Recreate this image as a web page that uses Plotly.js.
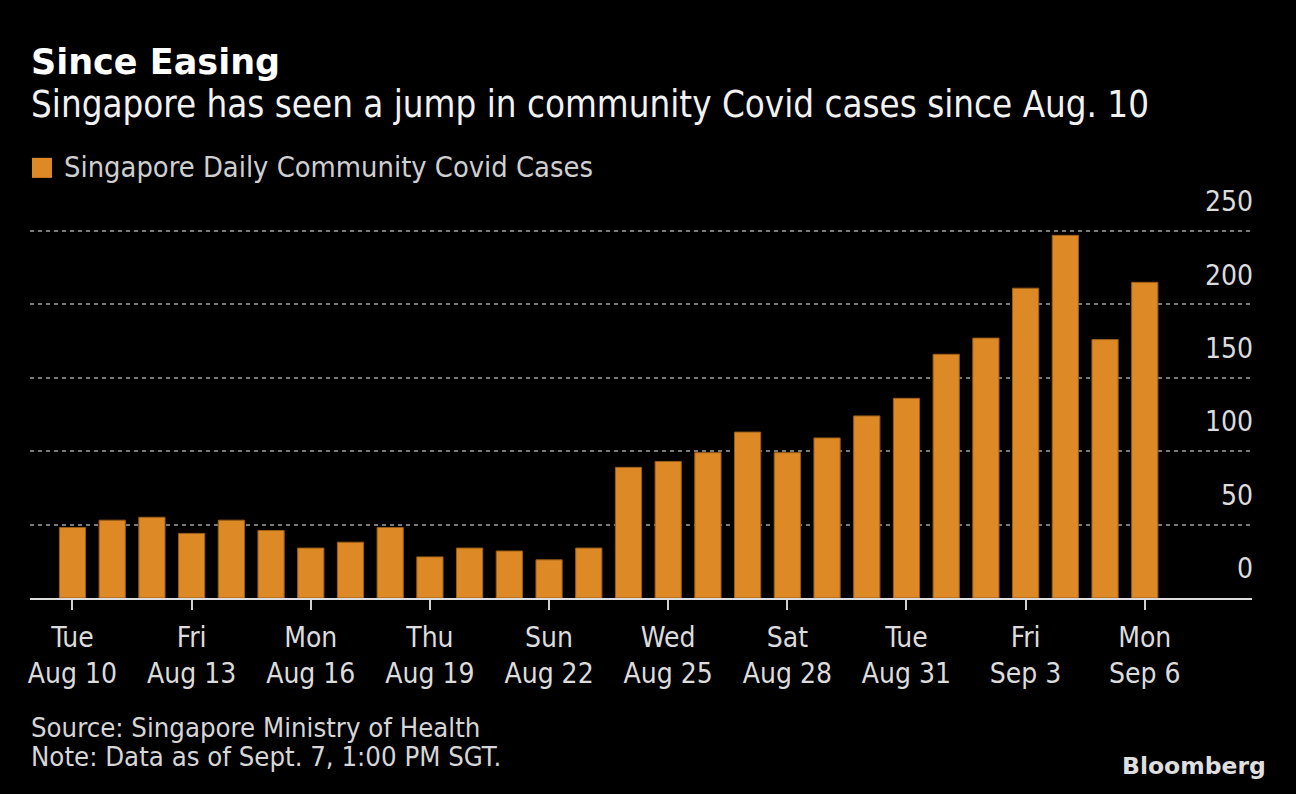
<!DOCTYPE html>
<html>
<head>
<meta charset="utf-8">
<script src="https://cdn.plot.ly/plotly-3.0.1.min.js"></script>
<style>html,body{margin:0;padding:0;background:#000;}#chart{width:1296px;height:794px;}</style>
</head>
<body>
<div id="chart"></div>
<script>
// ---- Data ----
const dates = ["Aug 10","Aug 11","Aug 12","Aug 13","Aug 14","Aug 15","Aug 16","Aug 17","Aug 18","Aug 19",
  "Aug 20","Aug 21","Aug 22","Aug 23","Aug 24","Aug 25","Aug 26","Aug 27","Aug 28","Aug 29",
  "Aug 30","Aug 31","Sep 1","Sep 2","Sep 3","Sep 4","Sep 5","Sep 6"];
const cases = [48, 53, 55, 44, 53, 46, 34, 38, 48, 28,
  34, 32, 26, 34, 89, 93, 99, 113, 99, 109,
  124, 136, 166, 177, 211, 247, 176, 215];
const tickDates = ["Aug 10","Aug 13","Aug 16","Aug 19","Aug 22","Aug 25","Aug 28","Aug 31","Sep 3","Sep 6"];
const tickDays = ["Tue","Fri","Mon","Thu","Sun","Wed","Sat","Tue","Fri","Mon"];
const yTicks = [0, 50, 100, 150, 200, 250];
const seriesName = "Singapore Daily Community Covid Cases";
const titleText = "Since Easing";
const subtitleText = "Singapore has seen a jump in community Covid cases since Aug. 10";
const sourceText = "Source: Singapore Ministry of Health";
const noteText = "Note: Data as of Sept. 7, 1:00 PM SGT.";

const COND = "DejaVu Sans Condensed, DejaVu Sans, sans-serif";
const ORANGE = "#dd8a26";

const trace = {
  type: "bar",
  x: dates,
  y: cases,
  name: seriesName,
  width: 0.66,
  marker: {color: ORANGE, line: {color: "#9a5d18", width: 1}},
  hoverinfo: "x+y",
  showlegend: false
};

// plot area: y=0 at 597.7px, y=250 at 231px -> range top 252 at 228.07px
const layout = {
  width: 1296, height: 794, autosize: false,
  paper_bgcolor: "#000", plot_bgcolor: "#000",
  margin: {l: 30, r: 44, t: 228.07, b: 196.3, pad: 0},
  xaxis: {
    type: "category",
    range: [-1.07, 29.70],
    tickmode: "array",
    tickvals: tickDates,
    ticktext: tickDates.map((d, i) => tickDays[i] + "<br>" + d),
    ticks: "outside", ticklen: 10, tickwidth: 2, tickcolor: "#cfcfcf",
    ticklabelstandoff: 3,
    showline: true, linecolor: "#dcdcdc", linewidth: 2,
    showgrid: false, zeroline: false,
    tickfont: {family: COND, size: 28, color: "#dcdcdc"},
    fixedrange: true
  },
  yaxis: {
    side: "right",
    range: [0, 252],
    tickmode: "array",
    tickvals: yTicks,
    ticktext: yTicks.map(String),
    showgrid: true, gridcolor: "#7a7a7a", gridwidth: 2, griddash: "4px,4px",
    zeroline: false, showline: false, ticks: "",
    ticklabelposition: "inside top",
    ticklabeloverflow: "allow",
    ticklabelshift: -10,
    ticklabelstandoff: -4,
    tickfont: {family: COND, size: 28, color: "#dcdcdc"},
    fixedrange: true
  },
  shapes: [
    {type: "rect", xref: "paper", yref: "paper",
     x0: 0.0016, x1: 0.0180, y0: 1.1355, y1: 1.1896,
     fillcolor: ORANGE, line: {width: 0}}
  ],
  annotations: [
    {text: "<b>" + titleText + "</b>", xref: "paper", yref: "paper", x: -0.001, y: 1.4473,
     xanchor: "left", yanchor: "middle", showarrow: false,
     font: {family: "DejaVu Sans, sans-serif", size: 35, color: "#ffffff"}},
    {text: subtitleText, xref: "paper", yref: "paper", x: -0.001, y: 1.3343,
     xanchor: "left", yanchor: "middle", showarrow: false,
     font: {family: COND, size: 36.4, color: "#f2f2f2"}},
    {text: seriesName, xref: "paper", yref: "paper", x: 0.0262, y: 1.1650,
     xanchor: "left", yanchor: "middle", showarrow: false,
     font: {family: COND, size: 28.8, color: "#cfcfcf"}},
    {text: sourceText, xref: "paper", yref: "paper", x: -0.001, y: -0.3490,
     xanchor: "left", yanchor: "middle", showarrow: false,
     font: {family: COND, size: 27.3, color: "#d6d6d6"}},
    {text: noteText, xref: "paper", yref: "paper", x: -0.001, y: -0.4288,
     xanchor: "left", yanchor: "middle", showarrow: false,
     font: {family: COND, size: 27.3, color: "#d6d6d6"}},
    {text: "<b>Bloomberg</b>", xref: "paper", yref: "paper", x: 1.0131, y: -0.4553,
     xanchor: "right", yanchor: "middle", showarrow: false,
     font: {family: "DejaVu Sans, sans-serif", size: 23.5, color: "#dedede"}}
  ]
};

Plotly.newPlot("chart", [trace], layout, {displayModeBar: false, staticPlot: true});
</script>
</body>
</html>
